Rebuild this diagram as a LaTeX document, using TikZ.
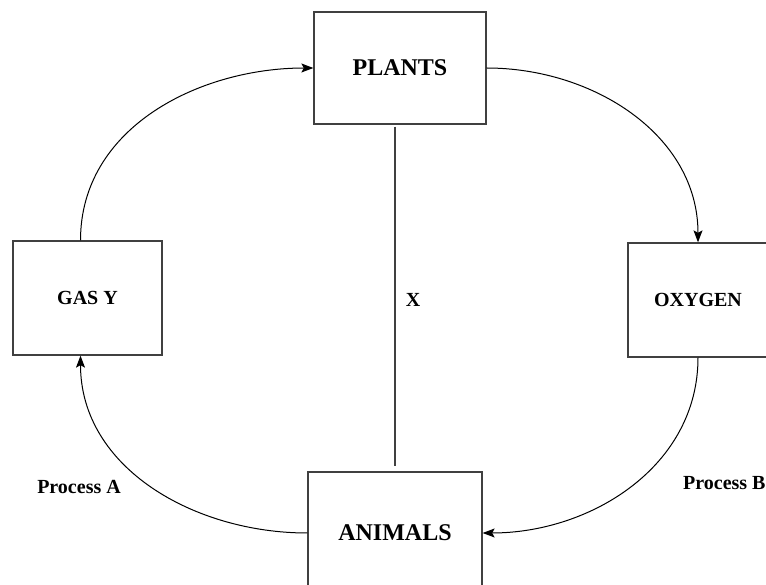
\documentclass[tikz,border=0pt]{standalone}
\usepackage{fontspec}
\setmainfont{Liberation Serif}
\usetikzlibrary{arrows.meta}
\newcommand*{\bigText}{\fontsize{24}{28}\selectfont\bfseries}
\newcommand*{\smallText}{\fontsize{20}{24}\selectfont\bfseries}
\newcommand*{\boxColor}{black!75}

\begin{document}
\begin{tikzpicture}[x=1pt, y=1pt,
    stage/.style={draw=\boxColor, line width=1.3pt, inner sep=0pt},
    cycle/.style={line width=1pt, -{Stealth[length=12pt, width=9pt, inset=2.5pt]}},
    lbl/.style={inner sep=0pt, font=\smallText}] {
\useasboundingbox (0,0) rectangle (766,584);
% the four boxes
\node[stage, minimum width=172pt, minimum height=112pt, font=\bigText] (plants) at (400,516) {PLANTS};
\node[stage, minimum width=149pt, minimum height=114pt, font=\smallText] (gasy) at (87.5,286) {GAS Y};
\node[stage, minimum width=140pt, minimum height=114pt, font=\smallText] (oxygen) at (698,284) {OXYGEN};
\node[stage, minimum width=174pt, minimum height=122pt, font=\bigText] (animals) at (395,51) {ANIMALS};
% the cycle
\draw[cycle] ([xshift=-7pt]gasy.north) to[out=90, in=180] (plants.west);
\draw[cycle] (plants.east) to[out=0, in=90] (oxygen.north);
\draw[cycle] (oxygen.south) to[out=-90, in=0] (animals.east);
\draw[cycle] (animals.west) to[out=180, in=-90] ([xshift=-7pt]gasy.south);
\draw[\boxColor, line width=1.1pt, shorten <=2pt, shorten >=5pt] (plants.south -| animals.north) -- (animals.north);
% labels
\node[lbl] (x) at (413,284) {X};
\node[lbl] (procA) at (79,97) {Process A};
\node[lbl, anchor=west] (procB) at (683,101) {Process B};
}\end{tikzpicture}
\end{document}
